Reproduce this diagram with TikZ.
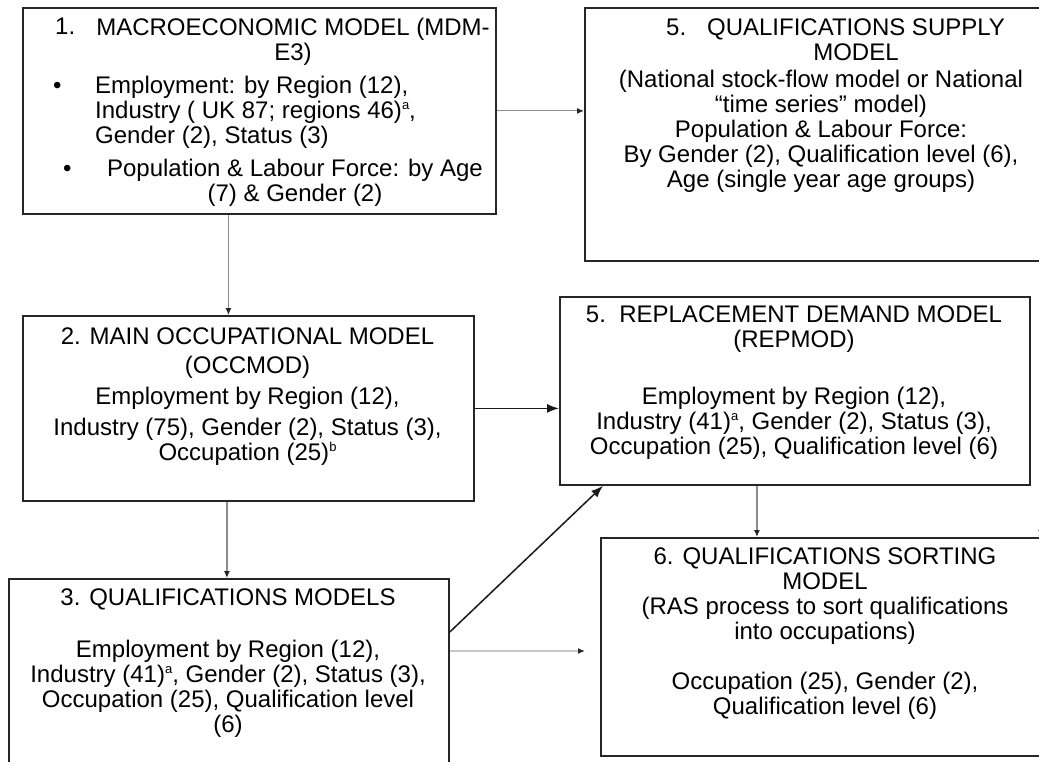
\documentclass[tikz,border=0pt]{standalone}
\usepackage{fontspec}
\setmainfont{Liberation Sans}
\usetikzlibrary{arrows.meta}
\newcommand{\notemark}[1]{\raisebox{9pt}{\fontsize{13}{13}\selectfont #1}}

\begin{document}
\begin{tikzpicture}[x=1pt,y=-1pt]
\tikzstyle{every node}=[font=\fontsize{24}{25}\selectfont, inner sep=0pt]
\tikzstyle{modelbox}=[rectangle, draw=black!85, line width=1.8pt, anchor=north west]
\tikzstyle{boxtext}=[align=center, anchor=north]
\tikzstyle{greyarrow}=[draw=black!45, line width=1.2pt, -{Latex[length=7pt,width=6pt,color=black!85]}]
\tikzstyle{paleline}=[draw=black!22, line width=2pt, -{Latex[length=7pt,width=6pt,color=black!85]}]
\tikzstyle{blackarrow}=[draw=black!90, line width=1.5pt, -{Latex[length=12pt,width=9pt]}]
\path[use as bounding box, clip] (0,0) rectangle (1039,762);

\node[modelbox, minimum width=473pt, minimum height=206pt] (macro) at (22,7) {};
\node[modelbox, minimum width=474pt, minimum height=253pt] (supply) at (584,7) {};
\node[modelbox, minimum width=451pt, minimum height=185pt] (occ) at (22,315) {};
\node[modelbox, minimum width=470pt, minimum height=188pt] (repl) at (559,296) {};
\node[modelbox, minimum width=440pt, minimum height=220pt] (qual) at (8,578) {};
\node[modelbox, minimum width=450pt, minimum height=218pt] (sort) at (600,537) {};

\node[anchor=north west] (macronum) at (55,18) {1.};
\node[boxtext] (macrotitle) at (293,18) {MACROECONOMIC MODEL (MDM-\\E3)};
\node[anchor=base west] (macrodota) at (53,93.5) {\textbullet};
\node[align=left, anchor=north west] (macrolista) at (95,76)
  {Employment: by Region (12),\\Industry ( UK 87; regions 46)\notemark{a},\\Gender (2), Status (3)};
\node[anchor=base west] (macrodotb) at (63,176.5) {\textbullet};
\node[boxtext] (macrolistb) at (295,159) {Population \& Labour Force: by Age\\(7) \& Gender (2)};

\node[anchor=north west] (supplynum) at (666,19) {5.};
\node[boxtext] (supplytitle) at (856,19) {QUALIFICATIONS SUPPLY\\MODEL};
\node[boxtext] (supplytext) at (821,70)
  {(National stock-flow model or National\\“time series” model)\\Population \& Labour Force:\\By Gender (2), Qualification level (6),\\Age (single year age groups)};

\node[boxtext] (occtext) at (247.5,328)
  {2. MAIN OCCUPATIONAL MODEL\\[4pt](OCCMOD)\\[6pt]Employment by Region (12),\\[6pt]Industry (75), Gender (2), Status (3),\\Occupation (25)\notemark{b}};

\node[boxtext] (repltext) at (794,306)
  {5.\ \ REPLACEMENT DEMAND MODEL\\(REPMOD)\\[32pt]Employment by Region (12),\\Industry (41)\notemark{a}, Gender (2), Status (3),\\Occupation (25), Qualification level (6)};

\node[boxtext] (qualtext) at (228,589)
  {3. QUALIFICATIONS MODELS\\[27pt]Employment by Region (12),\\Industry (41)\notemark{a}, Gender (2), Status (3),\\Occupation (25), Qualification level\\(6)};

\node[boxtext] (sorttext) at (825,548)
  {6. QUALIFICATIONS SORTING\\MODEL\\(RAS process to sort qualifications\\into occupations)\\[25pt]Occupation (25), Gender (2),\\Qualification level (6)};

\coordinate (macroout) at ([xshift=-31pt]macro.south);
\coordinate (occout) at ([xshift=-21.5pt]occ.south);
\coordinate (replout) at ([xshift=-38pt]repl.south);
\coordinate (qualout) at ([yshift=-73pt]qual.north east);
\coordinate (edgein) at (1041,500);

\draw[greyarrow] (macro.east) -- (macro.east -| supply.west);
\draw[greyarrow] (macroout) -- (macroout |- occ.north);
\draw[greyarrow] (occout) -- (occout |- qual.north);
\draw[blackarrow] (occ.east) -- (occ.east -| repl.west);
\draw[blackarrow] ([yshift=-54pt]qual.north east) -- ([xshift=44pt]repl.south west);
\draw[greyarrow] (replout) -- (replout |- sort.north);
\draw[paleline, shorten >=15pt] (qualout) -- (qualout -| sort.west);
\draw[greyarrow] (edgein) -- (edgein |- sort.north);
\end{tikzpicture}
\end{document}
